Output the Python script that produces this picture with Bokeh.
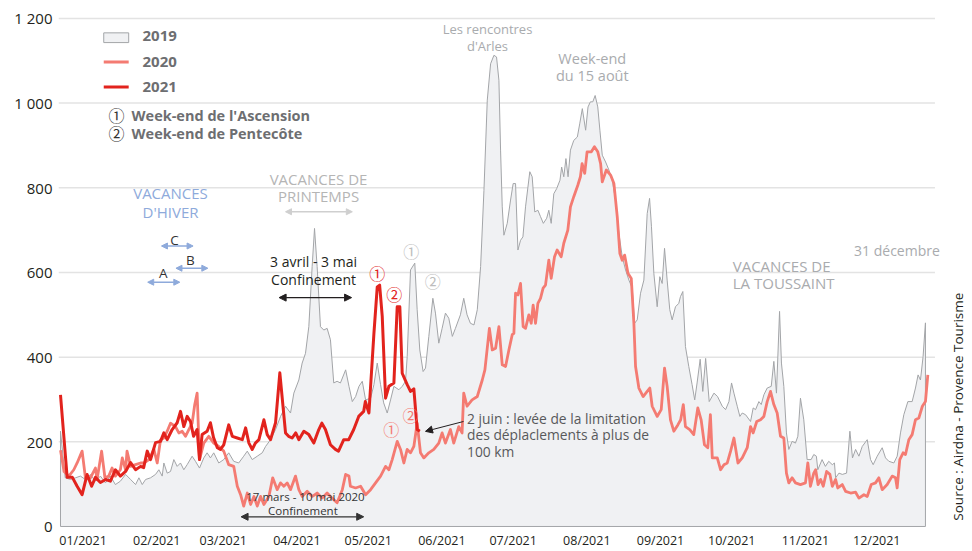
import math
from bokeh.plotting import figure
from bokeh.models import Range1d, FixedTicker, Label, Arrow, NormalHead
from bokeh.embed import file_html
from bokeh.resources import INLINE

# ---------------- data (day of year, value) ----------------
days_2019 = [0, 2, 4.2, 6.3, 8.4, 10.5, 12.6, 14.7, 16.8, 18.9, 21, 23.1, 25.2, 27.4, 29.5, 31.6, 33, 34.4, 35.8,
             37.9, 40, 41.4, 42.8, 43.5, 44.9, 46.3, 47.7, 49.1, 50.5, 51.9, 53.3, 55.4, 56.8, 58.5, 60.3, 61.7,
             63.1, 64.5, 66.6, 68.7, 70.8, 72.9, 75, 77.1, 78.6, 80.7, 82.8, 84.9, 86.3, 88.4, 90.5, 92.6, 94.7,
             96.8, 98.2, 100.3, 101.7, 103.1, 104.5, 105.9, 106.9, 108, 109.4, 110.8, 112.2, 113.6, 115, 116.4,
             117.8, 120, 121.4, 122.8, 124.2, 125.6, 127, 128.4, 130.5, 131.9, 133.3, 134.7, 136, 137.5, 138.9,
             140.3, 142.4, 143.8, 145.2, 145.9, 147.3, 149.1, 150.1, 151.2, 152.6, 153.6, 155, 156.7, 157.8,
             159.2, 160.6, 162, 163.4, 164.9, 166.2, 168.3, 169.7, 171.1, 172.5, 174, 175.4, 176.8, 178.2, 179.6,
             181, 182.4, 183.5, 184.5, 185.2, 185.9, 186.6, 188, 189.4, 190.5, 191.5, 192.5, 193.6, 194.6, 195.7,
             197.5, 198.5, 199.6, 200.9, 202, 203.2, 204.6, 205.5, 206.5, 207.6, 208.8, 210.2, 210.9, 211.8,
             212.7, 213.6, 214.6, 216, 217.5, 218.5, 219.6, 221, 222, 223, 224, 225, 226.1, 227, 228, 229.4,
             230.8, 232.2, 233.6, 235, 236.4, 237.8, 239.2, 240.6, 241.6, 242.7, 244.1, 245.5, 246.9, 247.9,
             248.7, 249.7, 251.1, 252.2, 253.2, 254.2, 255.3, 256.4, 257.4, 258.8, 260.2, 260.9, 261.9, 263,
             264.4, 265.8, 266.9, 267.9, 269.2, 270.3, 271.5, 273, 275, 276.5, 278.5, 279.9, 281.3, 282.4, 283.4,
             284.8, 285.9, 286.9, 288.3, 290.4, 291.5, 292.5, 293.9, 294.9, 296, 297.4, 299.1, 300.2, 301.3,
             302.6, 303.4, 304.4, 305.5, 306.5, 307.9, 309.3, 310.3, 311.4, 312.8, 314.2, 315.9, 317, 318.1,
             318.7, 320.5, 321.9, 323.3, 324.8, 325.7, 326.2, 327.6, 329, 330.8, 332.2, 333.3, 334.6, 336, 337.4,
             339.5, 340.9, 342, 343.7, 345.8, 347.2, 348.6, 350.7, 352.1, 353.5, 354.9, 356.6, 358.4, 359.8,
             360.9, 361.9, 363, 364]
vals_2019 = [225, 115, 111, 115, 119, 111, 123, 107, 119, 103, 119, 99, 107, 123, 111, 99, 115, 99, 111,
             115, 123, 134, 119, 150, 126, 130, 158, 142, 150, 134, 146, 166, 154, 138, 162, 174,
             162, 174, 150, 158, 174, 154, 150, 166, 178, 158, 166, 174, 189, 205, 229, 260, 284,
             268, 315, 346, 386, 409, 472, 614, 704, 614, 472, 464, 468, 441, 339, 343,
             339, 370, 331, 295, 307, 331, 343, 299, 303, 335, 386, 335, 292, 268, 299,
             331, 323, 331, 343, 401, 606, 622, 512, 417, 366, 374, 449, 539, 504,
             433, 468, 504, 492, 449, 468, 500, 539, 500, 480, 476, 512, 614, 794, 1007,
             1093, 1113, 1109, 1054, 889, 755, 688, 716, 771, 810, 810, 653, 676, 684, 755,
             838, 826, 743, 747, 732, 716, 728, 747, 716, 786, 798, 818, 849, 826,
             869, 826, 889, 912, 920, 951, 987, 936, 991, 1003, 1003, 1018, 991, 936, 877, 861,
             842, 818, 771, 692, 637, 606, 582, 563, 480, 488, 551, 582, 739, 775,
             708, 598, 519, 590, 574, 657, 582, 512, 488, 519, 527, 543, 555, 425,
             378, 335, 299, 339, 395, 319, 397, 295, 315, 307, 284, 276, 295, 339, 315,
             284, 260, 268, 264, 248, 280, 276, 295, 288, 311, 327, 331, 390, 315,
             508, 386, 331, 221, 182, 201, 197, 213, 303, 252, 158, 158, 170, 166,
             134, 158, 142, 154, 146, 150, 115, 126, 123, 126, 225, 162, 182, 166, 189,
             205, 158, 146, 166, 186, 162, 154, 150, 166, 221, 264, 295, 295, 327,
             358, 346, 401, 481]

days_2020 = [0, 1.5, 3.5, 5.6, 7, 9.1, 10.5, 12.6, 14.7, 15.4, 17.3, 18.7, 20.3, 21.7, 23.1, 25.2, 26, 27.4, 28,
             29.5, 31.6, 33.7, 35.1, 37.2, 39.3, 40.7, 42.1, 43.5, 44.9, 46.3, 48.4, 49.8, 51.2, 52.6, 54, 55.4,
             56.5, 57.5, 58.5, 60.3, 62.4, 64.5, 66.6, 68.7, 70.8, 72.9, 74.4, 75.8, 77.1, 78.6, 80, 81.4, 82.8,
             84.2, 85.6, 87.7, 89.3, 91.2, 92.6, 94, 95.4, 96.8, 98.9, 100.3, 101.7, 103.8, 106, 108, 110.1,
             112.2, 114.3, 116.4, 118.6, 120, 121.4, 122, 124.2, 126.3, 128.4, 130.5, 132.6, 134.7, 136.8, 138.2,
             139.6, 141.7, 143.1, 144.5, 145.9, 147.3, 148.7, 150.1, 151.5, 152.9, 155, 157.1, 159.2, 160.6, 162,
             164.1, 165.5, 167.6, 169, 169.7, 171.1, 173.2, 175.4, 177.5, 178.6, 180.5, 181.7, 183.1, 184.5,
             185.9, 187.3, 188.7, 190.1, 190.8, 191.5, 192.5, 193.6, 194.7, 195.7, 197.1, 198.1, 198.9, 199.9,
             200.9, 202, 203.1, 204.1, 205.5, 206.5, 207.9, 209, 210.7, 211.8, 213.5, 214.6, 216, 217.7, 218.8,
             219.5, 220.6, 221.6, 223.4, 224.7, 226.1, 227.3, 228, 229.7, 231.5, 232.9, 234.3, 235.4, 236.4,
             237.4, 238.8, 240.2, 241.3, 242, 243.4, 245.2, 246.9, 248, 249, 251.1, 252.8, 254.2, 255.3, 256.7,
             258.1, 259.8, 261, 262.1, 263, 264.8, 266.5, 268.2, 269.6, 271, 272.4, 273.5, 274.3, 276.4, 277.8,
             279.2, 280.6, 282, 283.4, 285.1, 286.9, 289, 290.4, 291.5, 293, 294.6, 296, 297.4, 298.8, 300.2,
             301.6, 303, 304.4, 305.5, 306.5, 307.9, 309.3, 311.4, 313.5, 314.5, 315.6, 317, 317.8, 318.8, 319.9,
             321, 322.4, 323.8, 324.8, 326.2, 327.1, 329, 330.4, 332.5, 334.6, 336, 338.1, 339.5, 341.2, 343,
             344.4, 345.8, 347.9, 350, 351.4, 352.1, 353.2, 354.6, 355.6, 357, 358.4, 359.8, 361.2, 362.7, 364,
             365]
vals_2020 = [180, 130, 119, 134, 150, 178, 115, 115, 138, 111, 178, 115, 119, 138, 119, 134, 162, 134, 178,
             142, 146, 150, 150, 158, 182, 150, 205, 209, 225, 244, 236, 221, 225, 213, 229, 244,
             288, 315, 158, 197, 213, 197, 189, 178, 146, 142, 95, 75, 48, 79, 52, 71, 48,
             71, 52, 71, 115, 87, 103, 95, 103, 87, 119, 87, 71, 83, 71, 79, 67,
             79, 67, 56, 87, 123, 119, 95, 91, 95, 75, 87, 103, 119, 142, 134,
             158, 201, 182, 150, 182, 174, 189, 244, 174, 162, 174, 182, 197, 221, 197,
             229, 197, 236, 221, 315, 284, 299, 307, 346, 370, 468, 417, 421, 472,
             382, 378, 417, 453, 456, 551, 547, 574, 472, 468, 500, 480, 523, 480,
             527, 539, 563, 570, 629, 586, 637, 653, 637, 669, 700, 755, 779, 806, 826,
             857, 834, 885, 885, 897, 885, 857, 814, 842, 830, 810, 732, 645, 629,
             641, 598, 586, 480, 378, 327, 307, 319, 327, 284, 260, 276, 374, 331, 252,
             225, 240, 252, 288, 236, 229, 217, 280, 252, 193, 186, 264, 162, 162, 134,
             146, 150, 178, 209, 150, 162, 186, 236, 221, 248, 252, 260, 295, 319, 288,
             268, 213, 209, 126, 103, 115, 103, 99, 103, 150, 95, 126, 134, 99, 111,
             95, 130, 123, 95, 111, 91, 99, 83, 79, 81, 67, 75, 71, 99, 103,
             115, 87, 99, 119, 115, 91, 158, 174, 170, 205, 217, 252, 256, 284, 295,
             358]

days_2021 = [0, 2.8, 5, 7, 9.1, 11.2, 13.1, 14.7, 16.8, 19, 21, 23.1, 25.2, 27.4, 29.5, 31.6, 33.7, 35, 36.5,
             37.9, 40, 42.1, 43.5, 44.9, 47, 49.1, 50.5, 51.9, 53.3, 54.7, 56, 57.5, 58.5, 59.6, 61.7, 63.1,
             64.4, 66, 67.3, 68.7, 70.8, 72.3, 74.4, 76.5, 77.9, 79.3, 80.7, 82, 83.5, 85.6, 87, 88.4, 90.5,
             92.3, 94.7, 96, 97.5, 99, 100.3, 102.4, 104.5, 106.6, 108.7, 110, 111.5, 113.6, 115.7, 117, 119.2,
             121.3, 123.4, 125.5, 127.6, 128.3, 129.8, 131.9, 133.3, 134.3, 135.4, 136.8, 138.2, 140.3, 141.7,
             142.8, 143.8, 145.9, 147.3, 148.7, 150.1, 151.2]
vals_2021 = [311, 116, 116, 95, 75, 123, 95, 116, 104, 111, 107, 134, 119, 130, 151, 134, 142, 139, 178,
             158, 198, 201, 221, 205, 229, 245, 272, 236, 260, 248, 213, 229, 158, 217, 225, 245,
             210, 186, 182, 193, 240, 213, 209, 205, 233, 197, 182, 197, 205, 252, 217, 205, 245,
             363, 221, 213, 209, 221, 205, 225, 217, 197, 229, 244, 229, 193, 182, 178, 205,
             205, 229, 260, 272, 295, 268, 456, 566, 570, 496, 303, 331, 339, 519,
             519, 362, 335, 319, 325, 229, 225]

month_starts = [0, 31, 59, 90, 120, 151, 181, 212, 243, 273, 304, 334]
month_labels = ["01/2021", "02/2021", "03/2021", "04/2021", "05/2021", "06/2021",
                "07/2021", "08/2021", "09/2021", "10/2021", "11/2021", "12/2021"]
y_ticks = [0, 200, 400, 600, 800, 1000, 1200]
y_labels = ["0", "200", "400", "600", "800", "1 000", "1 200"]

# school-holiday / lockdown periods (day of year)
hiver_A = (36.7, 50.2)
hiver_B = (48.6, 62.0)
hiver_C = (42.5, 55.8)
printemps_2019 = (94.7, 122.8)
confinement_2021 = (92, 122.5)
confinement_2020 = (76, 127.6)

FONT = "Open Sans"
CJK = "Noto Sans CJK JP"
C19_FILL = "#f0f1f3"
C19_LINE = "#a3a5a8"
C20 = "#f47b72"
C21 = "#e2231d"
GREY_TXT = "#a9abae"
DARK = "#231f20"

p = figure(width=972, height=551, output_backend="svg", toolbar_location=None,
           x_range=Range1d(-0.84, 383.8), y_range=Range1d(-2.4, 1242.4),
           min_border_left=58, min_border_right=0, min_border_top=0, min_border_bottom=0)
p.outline_line_color = None
p.background_fill_color = "white"
p.border_fill_color = "white"
p.xgrid.visible = False
p.ygrid.visible = False

label_pos = [m + 9.5 for m in month_starts]
p.yaxis.ticker = FixedTicker(ticks=y_ticks)
p.yaxis.major_label_overrides = {t: l for t, l in zip(y_ticks, y_labels)}
p.xaxis.ticker = FixedTicker(ticks=label_pos)
p.xaxis.major_label_overrides = {t: l for t, l in zip(label_pos, month_labels)}
for ax in (p.xaxis, p.yaxis):
    ax.axis_line_color = None
    ax.major_tick_line_color = None
    ax.minor_tick_line_color = None
    ax.major_tick_out = 0
    ax.major_tick_in = 0
    ax.minor_tick_out = 0
    ax.major_label_text_font = FONT
    ax.major_label_text_color = DARK
p.yaxis.major_label_text_font_size = "15px"
p.yaxis.major_label_standoff = 6
p.xaxis.major_label_text_font_size = "12.5px"
p.xaxis.major_label_standoff = 4

# horizontal grid lines (from tick list)
grid_vals = y_ticks[1:]
p.segment(x0=[-0.84] * len(grid_vals), x1=[368.0] * len(grid_vals), y0=grid_vals, y1=grid_vals,
          line_color="#e3e3e3", line_width=1.5)

# 2019 area
xs19 = [days_2019[0]] + days_2019 + [days_2019[-1]]
ys19 = [0] + vals_2019 + [0]
p.patch(xs19, ys19, fill_color=C19_FILL, line_color=C19_LINE, line_width=1)
# 2020 and 2021 lines
p.line(days_2020, vals_2020, line_color=C20, line_width=2.8, line_join="round")
p.line(days_2021, vals_2021, line_color=C21, line_width=3, line_join="round")

# legend (manual)
p.quad(left=[18.2], right=[28.7], bottom=[1143], top=[1166], fill_color=C19_FILL, line_color=C19_LINE, line_width=1)
p.segment(x0=[18.2], x1=[28.7], y0=[1097], y1=[1097], line_color=C20, line_width=3)
p.segment(x0=[18.2], x1=[28.7], y0=[1038], y1=[1038], line_color=C21, line_width=3)


def lab(x, y, text, color=DARK, size="13px", align="center", bold=False, angle=0.0, font=FONT):
    p.add_layout(Label(x=x, y=y, text=text, text_font=font, text_font_size=size, text_color=color,
                       text_align=align, text_baseline="middle", angle=angle,
                       text_font_style="bold" if bold else "normal"))


def arrow(x0, x1, y, color, width=1.3, size=6, both=True):
    p.add_layout(Arrow(x_start=x0, y_start=y, x_end=x1, y_end=y, line_color=color, line_width=width,
                       start=NormalHead(size=size, fill_color=color, line_color=color) if both else None,
                       end=NormalHead(size=size, fill_color=color, line_color=color)))


LEG = "#6d6e71"
lab(34.5, 1157.6, "2019", LEG, "15px", "left", True)
lab(34.5, 1097.5, "2020", LEG, "15px", "left", True)
lab(34.5, 1038.5, "2021", LEG, "15px", "left", True)
lab(23.6, 971, "\u2460", "#333333", "16px", font=CJK)
lab(29.9, 971, "Week-end de l'Ascension", LEG, "14.5px", "left", True)
lab(23.6, 929, "\u2461", "#333333", "16px", font=CJK)
lab(29.9, 929, "Week-end de Pentecôte", LEG, "14.5px", "left", True)

BLUE = "#8eaadb"
lab(46.3, 787.5, "VACANCES", BLUE, "15px")
lab(46.3, 742.7, "D'HIVER", BLUE, "15px")
arrow(hiver_C[0], hiver_C[1], 662.5, BLUE, 1.5, 6)
arrow(hiver_B[0], hiver_B[1], 610, BLUE, 1.5, 6)
arrow(hiver_A[0], hiver_A[1], 577, BLUE, 1.5, 6)
lab(48.0, 676.7, "C", "#333333", "13.5px")
lab(54.7, 629, "B", "#333333", "13.5px")
lab(43.3, 599.6, "A", "#333333", "13.5px")

lab(108.6, 820.5, "VACANCES DE", "#b5b5b5", "15px")
lab(108.6, 780.4, "PRINTEMPS", "#b5b5b5", "15px")
arrow(printemps_2019[0], printemps_2019[1], 743.4, "#cfcfcf", 1.5, 6)

lab(106.5, 625.5, "3 avril - 3 mai", DARK, "14px")
lab(106.5, 582.3, "Confinement", DARK, "14px")
arrow(confinement_2021[0], confinement_2021[1], 540.6, DARK, 1.3, 7)

lab(133.3, 598, "\u2460", C21, "16px", font=CJK)
lab(140.5, 548.6, "\u2461", C21, "16px", font=CJK)
lab(147.6, 651.4, "\u2460", "#bdbdbd", "16px", font=CJK)
lab(156.7, 580, "\u2461", "#bdbdbd", "16px", font=CJK)
lab(139.2, 230, "\u2460", C20, "16px", font=CJK)
lab(147.3, 264, "\u2461", C20, "16px", font=CJK)

lab(171.1, 254, "2 juin : levée de la limitation", "#58595b", "13.8px", "left")
lab(171.1, 217, "des déplaclements à plus de", "#58595b", "13.8px", "left")
lab(171.1, 177.5, "100 km", "#58595b", "13.8px", "left")
p.add_layout(Arrow(x_start=169.6, y_start=248, x_end=153.6, y_end=224.7, line_color=DARK, line_width=1,
                   end=NormalHead(size=7, fill_color=DARK, line_color=DARK)))

lab(103.1, 70, "17 mars - 10 mai 2020", "#333333", "11.5px")
lab(102.0, 38.4, "Confinement", "#333333", "11.5px")
arrow(confinement_2020[0], confinement_2020[1], 22.9, "#333333", 1.3, 7)

lab(179.7, 1174, "Les rencontres", GREY_TXT, "13px")
lab(179.7, 1134, "d'Arles", GREY_TXT, "13px")
lab(223.8, 1105.2, "Week-end", GREY_TXT, "14.5px")
lab(223.8, 1065.6, "du 15 août", GREY_TXT, "14.5px")
lab(282.9, 615.3, "VACANCES DE", GREY_TXT, "15px", "left")
lab(282.9, 574.6, "LA TOUSSAINT", GREY_TXT, "15px", "left")
lab(352.0, 651.4, "31 décembre", GREY_TXT, "14px")

lab(377.9, 283, "Source : Airdna - Provence Tourisme", DARK, "13.5px", "center", False, math.pi / 2)

open("out.html", "w").write(file_html(p, INLINE))
